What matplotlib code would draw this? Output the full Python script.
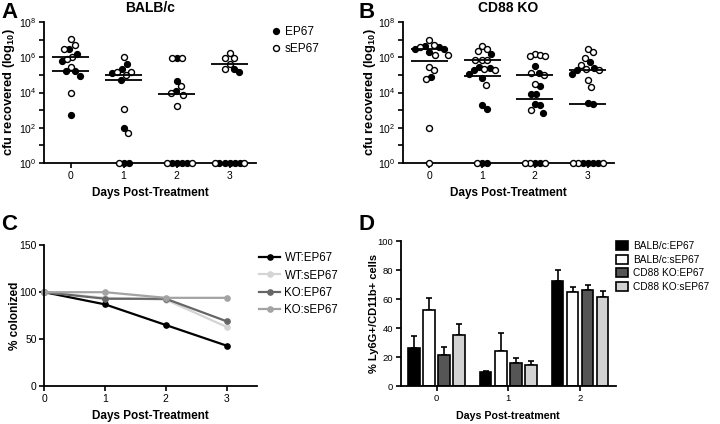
import numpy as np
import matplotlib
matplotlib.use('Agg')
import matplotlib.pyplot as plt
from matplotlib.ticker import FixedLocator, FuncFormatter, NullLocator

plt.rcParams['font.family'] = ['Liberation Sans', 'DejaVu Sans']
plt.rcParams['mathtext.fontset'] = 'custom'
plt.rcParams['mathtext.rm'] = 'Liberation Sans'
plt.rcParams['mathtext.bf'] = 'Liberation Sans:bold'

days = [0, 1, 2, 3]

# log10 cfu recovered per mouse, one list per day (0 = nothing recovered, drawn at 10^0)
balb_ep67 = [[6.49, 6.19, 5.81, 5.24, 5.24, 4.92, 2.71],
             [5.59, 5.36, 5.13, 4.73, 2.0, 0, 0],
             [5.93, 4.66, 4.07, 0, 0, 0, 0],
             [5.34, 5.19, 0, 0, 0, 0, 0]]
balb_sep67 = [[7.03, 6.69, 6.46, 6.04, 5.89, 5.44, 3.98],
              [6.04, 5.19, 5.19, 4.98, 3.09, 1.70, 0],
              [5.93, 5.93, 4.36, 3.96, 3.86, 3.26, 0, 0],
              [6.23, 5.98, 5.98, 5.63, 5.34, 0, 0]]
ko_ep67 = [[6.66, 6.6, 6.45, 6.45, 6.3, 4.9],
           [6.18, 5.45, 5.41, 5.27, 5.07, 4.81, 3.28, 3.09, 0, 0],
           [5.49, 5.10, 4.39, 3.92, 3.92, 3.33, 3.28, 2.86, 0, 0],
           [5.72, 5.41, 5.28, 5.04, 3.41, 3.33, 0, 0, 0, 0]]
ko_sep67 = [[7.0, 6.7, 6.6, 6.15, 6.15, 5.45, 5.3, 4.75, 2.0, 0],
            [6.66, 6.44, 6.35, 5.87, 5.87, 5.87, 5.34, 5.27, 4.45, 0],
            [6.21, 6.14, 6.06, 6.06, 5.10, 5.02, 4.47, 2.99, 0, 0, 0],
            [6.44, 6.29, 5.93, 5.57, 5.34, 5.27, 4.73, 4.32, 0, 0, 0]]

# % colonized
col_labels = ['WT:EP67', 'WT:sEP67', 'KO:EP67', 'KO:sEP67']
wt_ep67_col = [100, 87, 65, 43]
wt_sep67_col = [100, 94, 92, 63]
ko_ep67_col = [100, 93, 93, 69]
ko_sep67_col = [100, 100, 94, 94]
col_colors = ['black', '#d4d4d4', '#666666', '#a3a3a3']

# % Ly6G+/CD11b+ cells
d_days = [0, 1, 2]
d_groups = ['BALB/c:EP67', 'BALB/c:sEP67', 'CD88 KO:EP67', 'CD88 KO:sEP67']
d_means = [[26.3, 9.7, 72.4], [52.3, 24.0, 65.0], [21.2, 15.7, 66.1], [35.0, 14.7, 61.5]]
d_sem = [[8.0, 0.9, 7.6], [8.7, 12.6, 3.4], [6.0, 3.9, 3.9], [8.0, 2.3, 4.4]]
d_colors = ['black', 'white', '#555555', '#d2d2d2']

fig = plt.figure(figsize=(7.2, 4.24), dpi=100)


def style(ax, size=7.5):
    for s in ['top', 'right']:
        ax.spines[s].set_visible(False)
    for s in ['left', 'bottom']:
        ax.spines[s].set_linewidth(1.3)
    ax.tick_params(width=1.2, length=3.5, labelsize=size, pad=2)


def swarm(ax, day, groups, gap=5.0, yfac=2.0, step=0.25):
    # beeswarm in pixel space; vertical spacing counted wider so rows spread sideways
    pts = [(v, g) for g, vals in enumerate(groups) for v in vals]
    pts.sort(key=lambda p: -p[0])
    placed = []
    out = [([], []) for _ in groups]
    inv = ax.transData.inverted()
    for v, g in pts:
        x0, y0 = ax.transData.transform((day, 10 ** v))
        k = 0
        while True:
            off = ((k + 1) // 2) * step * (1 if k % 2 else -1)
            x = x0 + off
            if all(((x - px) / gap) ** 2 + ((y0 - py) / (gap * yfac)) ** 2 >= 1
                   for px, py in placed):
                break
            k += 1
        placed.append((x, y0))
        xd, yd = inv.transform((x, y0))
        out[g][0].append(xd)
        out[g][1].append(yd)
    return out


def scatter_panel(ax, ep, sep, title, legend):
    style(ax)
    ax.set_yscale('log')
    ax.set_ylim(1, 1e8)
    ax.set_xlim(-0.5, 3.5)
    ex, ey, sx, sy = [], [], [], []
    for d in days:
        (a, b), (c, e) = swarm(ax, d, [ep[d], sep[d]])
        ex += a; ey += b; sx += c; sy += e
        for vals in (ep[d], sep[d]):
            m = np.median(vals)
            if m > 0:
                ax.hlines(10 ** m, d - 0.35, d + 0.35, color='black', lw=1.3, zorder=4)
    ax.plot(ex, ey, 'o', ms=4.3, mfc='black', mec='black', mew=0.9,
            clip_on=False, zorder=3, label='EP67')
    ax.plot(sx, sy, 'o', ms=4.3, mfc='white', mec='black', mew=1.0,
            clip_on=False, zorder=3, label='sEP67')
    ax.yaxis.set_major_locator(FixedLocator([10.0 ** k for k in range(9)]))
    ax.yaxis.set_minor_locator(NullLocator())
    ax.yaxis.set_major_formatter(FuncFormatter(
        lambda v, p: '$10^{%d}$' % round(np.log10(v)) if round(np.log10(v)) % 2 == 0 else ''))
    ax.set_xticks(days)
    ax.set_title(title, fontsize=10, fontweight='bold', pad=7)
    ax.set_ylabel(r'cfu recovered (log$_{\mathbf{10}}$)', fontsize=9.3, fontweight='bold')
    ax.set_xlabel('Days Post-Treatment', fontsize=8.5, fontweight='bold')
    ax.yaxis.set_label_coords(-0.125, 0.5)
    ax.xaxis.set_label_coords(0.5, -0.17)
    if legend:
        ax.legend(loc='upper left', bbox_to_anchor=(1.065, 0.97), frameon=False,
                  fontsize=8.5, handletextpad=0.25, borderaxespad=0, labelspacing=0.4,
                  handlelength=1.0, borderpad=0)


axA = fig.add_axes([44 / 720, 1 - 163 / 424, 212 / 720, 141 / 424])
scatter_panel(axA, balb_ep67, balb_sep67, 'BALB/c', True)
axB = fig.add_axes([403 / 720, 1 - 163 / 424, 211 / 720, 141 / 424])
scatter_panel(axB, ko_ep67, ko_sep67, 'CD88 KO', False)
axB.yaxis.set_label_coords(-0.118, 0.5)

# panel C
axC = fig.add_axes([44.3 / 720, 1 - 386 / 424, 212.7 / 720, 140.7 / 424])
style(axC)
for vals, lab, c in zip([wt_ep67_col, wt_sep67_col, ko_ep67_col, ko_sep67_col], col_labels, col_colors):
    axC.plot(days, vals, '-o', color=c, lw=1.6, ms=3.8, label=lab, clip_on=False)
axC.set_xlim(0, 3.5)
axC.set_ylim(0, 150)
axC.set_xticks(days)
axC.set_yticks([0, 50, 100, 150])
axC.set_ylabel('% colonized', fontsize=8.5, fontweight='bold')
axC.set_xlabel('Days Post-Treatment', fontsize=8.5, fontweight='bold')
axC.yaxis.set_label_coords(-0.11, 0.5)
axC.xaxis.set_label_coords(0.5, -0.17)
axC.legend(loc='upper left', bbox_to_anchor=(1.01, 0.95), frameon=False, fontsize=8.3,
           handletextpad=0.4, borderaxespad=0, labelspacing=0.45, handlelength=1.8, borderpad=0)

# panel D
axD = fig.add_axes([400.7 / 720, 1 - 386 / 424, 215.3 / 720, 144.7 / 424])
style(axD, 6.8)
w = 0.16
offs = (np.arange(4) - 1.5) * 0.21
for i in range(4):
    xs = np.array(d_days) + offs[i]
    axD.bar(xs, d_means[i], w, color=d_colors[i], edgecolor='black', lw=1.2,
            label=d_groups[i], zorder=2)
    axD.errorbar(xs, d_means[i], yerr=[np.zeros(3), d_sem[i]], fmt='none', ecolor='black',
                 elinewidth=1.2, capsize=2.5, capthick=1.2, zorder=1)
axD.set_xlim(-0.5, 2.5)
axD.set_ylim(0, 100)
axD.set_xticks(d_days)
axD.set_yticks(range(0, 101, 20))
axD.set_ylabel('% Ly6G+/CD11b+ cells', fontsize=8, fontweight='bold')
axD.set_xlabel('Days Post-treatment', fontsize=7.7, fontweight='bold')
axD.yaxis.set_label_coords(-0.1, 0.5)
axD.xaxis.set_label_coords(0.5, -0.17)
axD.legend(loc='upper left', bbox_to_anchor=(1.0, 1.0), frameon=False, fontsize=7.3,
           handletextpad=0.5, borderaxespad=0, labelspacing=0.35, handlelength=1.2,
           handleheight=1.0, borderpad=0)

for lab, x, y in [('A', 1, 2), ('B', 359, 2), ('C', 1, 214), ('D', 359, 214)]:
    fig.text(x / 720, 1 - y / 424, lab, fontsize=16, fontweight='bold', va='top', ha='left')

fig.savefig('out.png', dpi=100)
